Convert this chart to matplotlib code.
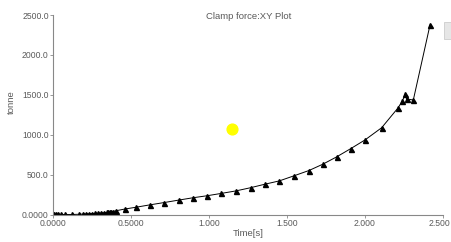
import matplotlib.pyplot as plt
import matplotlib.transforms as mtransforms
from matplotlib.patches import Rectangle

# Clamp force vs time
time_s = [0.0, 0.01, 0.02, 0.035, 0.05, 0.075, 0.12, 0.17, 0.19, 0.21, 0.23, 0.25,
          0.27, 0.29, 0.31, 0.33, 0.345, 0.355, 0.365, 0.375, 0.385, 0.405, 0.46,
          0.53, 0.62, 0.715, 0.806, 0.90, 0.99, 1.077, 1.173, 1.267, 1.357, 1.451,
          1.547, 1.641, 1.729, 1.818, 1.91, 2.0, 2.107, 2.21, 2.24, 2.258, 2.267,
          2.31, 2.417]
force_t = [5, 5, 5, 5, 5, 5, 5, 8, 10, 12, 14, 17, 20, 22, 25, 28, 30, 33, 36, 38,
           42, 52, 73, 95, 125, 155, 185, 215, 240, 268, 300, 340, 383, 425, 490,
           555, 633, 725, 830, 937, 1090, 1333, 1425, 1512, 1450, 1437, 2375]

# cursor dot
cursor_x = [1.147]
cursor_y = [1075]

xticks = [0.0, 0.5, 1.0, 1.5, 2.0, 2.5]
xtick_labels = ['0.0000', '0.5000', '1.000', '1.500', '2.000', '2.500']
yticks = [0, 500, 1000, 1500, 2000, 2500]
ytick_labels = ['0.0000', '500.0', '1000.0', '1500.0', '2000.0', '2500.0']

plt.rcParams['font.family'] = ['Liberation Sans', 'DejaVu Sans']
grey = '#5a5a5a'

fig = plt.figure(figsize=(4.52, 2.42), dpi=100)
ax = fig.add_axes([0.117, 0.112, 0.863, 0.826])

ax.plot(time_s, force_t, color='black', linewidth=0.7, marker='^',
        markersize=3.6, markerfacecolor='black', markeredgecolor='black')
ax.scatter(cursor_x, cursor_y, s=60, color='#ffff00', zorder=5)

ax.set_xlim(0, 2.5)
ax.set_ylim(0, 2500)
ax.set_xticks(xticks)
ax.set_xticklabels(xtick_labels)
ax.set_yticks(yticks)
ax.set_yticklabels(ytick_labels)

for side in ['top', 'right']:
    ax.spines[side].set_visible(False)
for side in ['left', 'bottom']:
    ax.spines[side].set_color('#888888')
    ax.spines[side].set_linewidth(0.8)
ax.tick_params(axis='both', colors='#888888', labelcolor=grey, labelsize=6.2,
               length=2, width=0.6, pad=1)

# nudge the last x label so it stays inside the picture
last = ax.get_xticklabels()[-1]
last.set_transform(last.get_transform() +
                   mtransforms.ScaledTranslation(-4 / 100, 0, fig.dpi_scale_trans))

ax.set_xlabel('Time[s]', fontsize=6.8, color=grey, labelpad=1)
fig.text(0.024, 0.58, 'tonne', fontsize=6.8, color=grey, rotation=90,
         ha='center', va='center')
fig.text(0.55, 0.932, 'Clamp force:XY Plot', fontsize=6.8, color=grey,
         ha='center', va='center')

# small toolbar button at the right edge
fig.patches.append(Rectangle((0.983, 0.84), 0.03, 0.07, transform=fig.transFigure,
                             facecolor='#e6e6e6', edgecolor='#cccccc', linewidth=0.6))

fig.savefig('out.png', dpi=100, facecolor='white')
